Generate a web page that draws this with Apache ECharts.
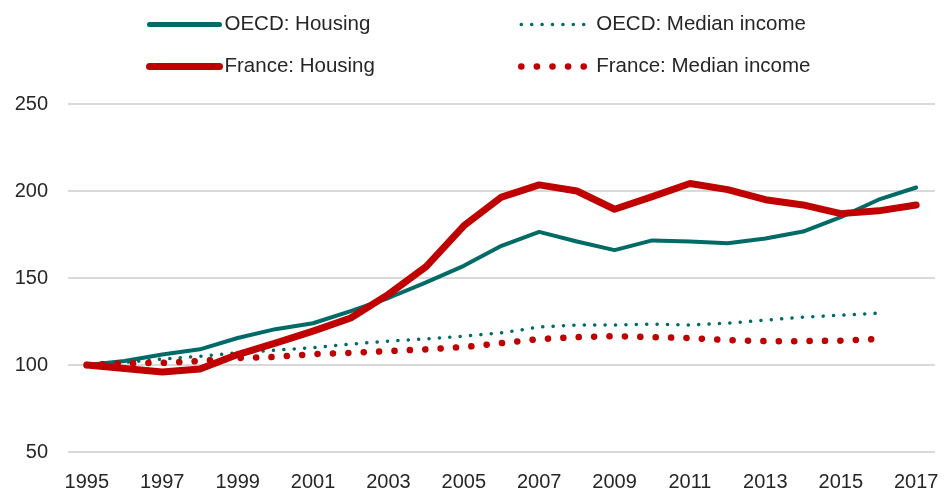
<!DOCTYPE html>
<html><head><meta charset="utf-8">
<script src="https://cdn.jsdelivr.net/npm/echarts@6/dist/echarts.min.js"></script>
<style>html,body{margin:0;padding:0;background:#fff}#c{width:944px;height:494px}</style>
</head><body><div id="c"></div>
<script>
const years = ['1995','1996','1997','1998','1999','2000','2001','2002','2003','2004','2005','2006','2007','2008','2009','2010','2011','2012','2013','2014','2015','2016','2017'];
const oecdHousing = [100,102.3,106,109,115.5,120.6,124,131,138.5,147.5,157,168.5,176.5,171,166,171.6,171,170,172.7,176.7,185,195,202];
const oecdIncome = [100,101.5,103.4,105,107,108.5,110,112,113.7,115,116.6,118.5,121.8,123,123,123.5,123,124,125.8,127.5,128.6,129.8,null];
const franceHousing = [100,98,96,97.7,106,112.6,119.5,127,140.6,156.5,180,196.5,203.5,200,189.5,196.8,204.3,200.8,195,192,187,188.6,192];
const franceIncome = [100,101,101.2,102.3,104,104.6,106.3,107,108,109,110.3,112.6,114.9,116,116.6,116,115.5,114.3,113.7,113.7,114,115,null];
const yTicks = [50,100,150,200,250];

const teal = '#006B66', red = '#C00000';
const font = 'Liberation Sans, Arial, sans-serif';
const chart = echarts.init(document.getElementById('c'));
const legendText = {fontSize: 20.5, color: '#262626', fontFamily: font};
const styles = {
  'OECD: Housing': {width: 5, color: teal, type: 'solid', cap: 'round'},
  'OECD: Median income': {width: 3.5, color: teal, type: [0.1, 10.3], cap: 'round'},
  'France: Housing': {width: 7, color: red, type: 'solid', cap: 'round'},
  'France: Median income': {width: 6.5, color: red, type: [0.1, 15.5], cap: 'round'}
};
function legendItem(name) {
  return {name: name, lineStyle: styles[name], itemStyle: {opacity: 0}};
}
chart.setOption({
  animation: false,
  legend: [
    {left: 141, top: 9, orient: 'vertical', itemGap: 21, itemWidth: 70, itemHeight: 20, textStyle: legendText,
     data: [legendItem('OECD: Housing'), legendItem('France: Housing')]},
    {left: 513, top: 9, orient: 'vertical', itemGap: 21, itemWidth: 70, itemHeight: 20, textStyle: legendText,
     data: [legendItem('OECD: Median income'), legendItem('France: Median income')]}
  ],
  grid: {left: 68, right: 9, top: 104, bottom: 42},
  xAxis: {
    type: 'category', data: years, boundaryGap: true,
    axisLine: {show: false}, axisTick: {show: false},
    axisLabel: {interval: 1, fontSize: 20, color: '#262626', fontFamily: font, margin: 20}
  },
  yAxis: {
    type: 'value', min: yTicks[0], max: yTicks[yTicks.length-1], interval: 50,
    axisLine: {show: false}, axisTick: {show: false},
    axisLabel: {fontSize: 20, color: '#262626', fontFamily: font, margin: 20},
    splitLine: {lineStyle: {color: '#d9d9d9', width: 2}}
  },
  series: [
    {name: 'OECD: Housing', type: 'line', data: oecdHousing, showSymbol: false, symbol: 'none',
     color: teal, lineStyle: {width: 4, color: teal, cap: 'round', join: 'round'}},
    {name: 'OECD: Median income', type: 'line', data: oecdIncome, showSymbol: false, symbol: 'none',
     color: teal, lineStyle: {width: 3.5, color: teal, type: [0.1, 10.3], cap: 'round'}},
    {name: 'France: Housing', type: 'line', data: franceHousing, showSymbol: false, symbol: 'none',
     color: red, lineStyle: {width: 7, color: red, cap: 'round', join: 'round'}},
    {name: 'France: Median income', type: 'line', data: franceIncome, showSymbol: false, symbol: 'none',
     color: red, lineStyle: {width: 6.5, color: red, type: [0.1, 15.3], cap: 'round'}}
  ]
});
</script></body></html>
